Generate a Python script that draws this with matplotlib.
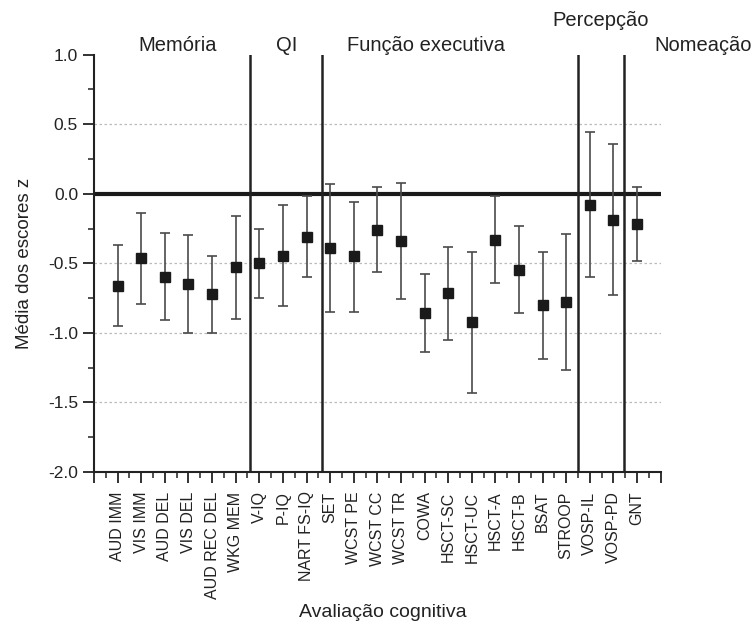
import matplotlib
matplotlib.use("Agg")
import matplotlib.pyplot as plt
import matplotlib.transforms as mtransforms
import numpy as np

plt.rcParams['font.family'] = ['Liberation Sans', 'DejaVu Sans']

# ---- data ----
tests = ["AUD IMM", "VIS IMM", "AUD DEL", "VIS DEL", "AUD REC DEL", "WKG MEM",
         "V-IQ", "P-IQ", "NART FS-IQ",
         "SET", "WCST PE", "WCST CC", "WCST TR", "COWA", "HSCT-SC", "HSCT-UC",
         "HSCT-A", "HSCT-B", "BSAT", "STROOP",
         "VOSP-IL", "VOSP-PD", "GNT"]
means = [-0.66, -0.46, -0.60, -0.65, -0.72, -0.53,
         -0.50, -0.45, -0.31,
         -0.39, -0.45, -0.26, -0.34, -0.86, -0.71, -0.92,
         -0.33, -0.55, -0.80, -0.78,
         -0.08, -0.19, -0.22]
upper = [-0.37, -0.14, -0.28, -0.30, -0.45, -0.16,
         -0.25, -0.08, -0.02,
         0.07, -0.06, 0.05, 0.08, -0.58, -0.38, -0.42,
         -0.02, -0.23, -0.42, -0.29,
         0.44, 0.36, 0.05]
lower = [-0.95, -0.79, -0.91, -1.00, -1.00, -0.90,
         -0.75, -0.81, -0.60,
         -0.85, -0.85, -0.56, -0.76, -1.14, -1.05, -1.43,
         -0.64, -0.86, -1.19, -1.27,
         -0.60, -0.73, -0.48]
groups = ["Memória", "QI", "Função executiva", "Percepção", "Nomeação"]
yticks = [-2.0, -1.5, -1.0, -0.5, 0.0, 0.5, 1.0]

# ---- figure ----
fig = plt.figure(figsize=(7.55, 6.28), dpi=100)
ax = fig.add_axes([0.1245, 0.2484, 0.7506, 0.6647])

x = np.arange(1, len(tests) + 1)
m = np.array(means)
err = np.vstack([m - np.array(lower), np.array(upper) - m])

for yv in [0.5, -0.5, -1.0, -1.5]:
    ax.axhline(yv, color='#bbbbbb', lw=0.9, ls=(0, (2, 2)), zorder=1)
ax.axhline(0, color='#1a1a1a', lw=3, zorder=2)

for xs in [6.6, 9.65, 20.5, 22.45]:
    ax.axvline(xs, color='#222222', lw=1.8, zorder=2)

ax.errorbar(x, m, yerr=err, fmt='none', ecolor='#4a4a4a', elinewidth=1.2,
            capsize=3.5, capthick=1.2, zorder=3)
ax.plot(x, m, 's', color='#1a1a1a', markersize=7.5, zorder=4)

ax.set_xlim(0, 24)
ax.set_ylim(-2.0, 1.0)
ax.set_yticks(yticks)
ax.set_yticklabels([f"{v:.1f}" for v in yticks])
ax.set_yticks(np.arange(-2.0, 1.01, 0.25), minor=True)

ax.set_xticks(np.arange(0, 25))
ax.set_xticklabels([""] + tests + [""], rotation=90)
ax.set_xticks(np.arange(0.5, 24, 1.0), minor=True)

for s in ['top', 'right']:
    ax.spines[s].set_visible(False)
for s in ['left', 'bottom']:
    ax.spines[s].set_linewidth(1.5)
    ax.spines[s].set_color('#222222')

ax.tick_params(axis='both', which='major', direction='out', length=8, width=1.3,
               color='#222222', labelsize=12.5, labelcolor='#222222')
ax.tick_params(axis='both', which='minor', direction='out', length=4.5, width=1.1,
               color='#222222')
ax.tick_params(axis='x', which='major', labelsize=11.5, pad=6)

ax.set_ylabel("Média dos escores z", fontsize=13.5, color='#222222')
ax.yaxis.set_label_coords(-0.107, 0.5)
ax.set_xlabel("Avaliação cognitiva", fontsize=14, color='#222222')
ax.xaxis.set_label_coords(0.51, -0.317)

trans = mtransforms.blended_transform_factory(ax.transData, fig.transFigure)
group_x = [3.56, 8.17, 14.06, 21.47, 25.8]
group_y = [0.928, 0.928, 0.928, 0.968, 0.927]
for g, gx, gy in zip(groups, group_x, group_y):
    ax.text(gx, gy, g, transform=trans, ha='center', va='center', fontsize=14.5,
            color='#222222', clip_on=False)

fig.savefig("out.png", dpi=100)
